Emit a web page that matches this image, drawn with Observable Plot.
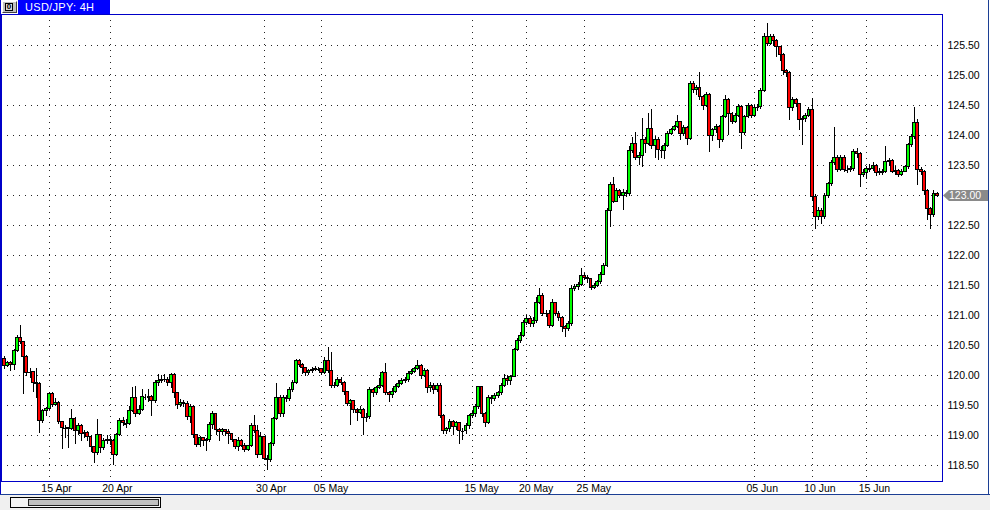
<!DOCTYPE html>
<html><head><meta charset="utf-8">
<script src="https://cdn.jsdelivr.net/npm/d3@7"></script>
<script src="https://cdn.jsdelivr.net/npm/@observablehq/plot@0.6"></script>
<style>
html,body{margin:0;padding:0;background:#fff;}
#wrap{position:relative;width:990px;height:510px;overflow:hidden;font-family:"Liberation Sans",Arial,sans-serif;}
#wrap svg{position:absolute;left:0;top:0;}
.abs{position:absolute;box-sizing:border-box;}
</style></head><body><div id="wrap"></div>
<script>
const symbolTitle = "USD/JPY: 4H";
const firstOpen = 120.28;
const close = [
120.16,120.21,120.18,120.41,120.63,120.55,120.31,120.04,120.05,119.87,
119.85,119.24,119.41,119.44,119.69,119.50,119.54,119.22,119.12,119.12,
119.10,119.28,119.07,119.16,119.03,119.04,118.98,118.80,118.70,119.00,
118.79,118.90,118.93,118.90,118.68,119.01,119.24,119.20,119.19,119.40,
119.63,119.36,119.43,119.64,119.63,119.64,119.57,119.88,119.90,119.92,
119.93,119.87,120.01,119.70,119.50,119.54,119.52,119.30,119.48,119.00,
118.84,118.95,118.90,118.92,119.18,119.35,119.09,119.06,119.09,119.06,
119.02,118.92,118.80,118.90,118.83,118.75,118.82,119.15,119.08,118.68,
118.97,118.61,118.59,118.85,119.28,119.63,119.35,119.63,119.60,119.76,
119.88,120.24,120.18,120.13,120.04,120.07,120.09,120.11,120.10,120.04,
120.24,120.07,119.82,119.83,119.93,119.88,119.72,119.53,119.57,119.42,
119.38,119.43,119.29,119.30,119.76,119.70,119.79,119.83,120.04,119.70,
119.68,119.73,119.80,119.86,119.90,119.92,120.03,120.06,120.10,120.15,
119.99,120.08,119.79,119.82,119.75,119.83,119.33,119.07,119.10,119.23,
119.14,119.20,119.07,119.07,119.15,119.32,119.35,119.48,119.80,119.36,
119.20,119.62,119.60,119.66,119.70,119.83,119.94,119.91,119.97,120.42,
120.57,120.66,120.87,120.94,120.86,120.90,121.20,121.32,121.03,121.03,
120.83,121.20,121.03,120.95,120.80,120.78,120.85,121.44,121.47,121.50,
121.66,121.63,121.60,121.46,121.49,121.55,121.68,121.83,122.75,123.18,
122.90,123.07,122.99,123.05,123.02,123.74,123.86,123.63,123.66,123.93,
123.86,124.11,123.82,123.93,123.76,123.75,123.82,124.02,124.09,124.14,
124.22,124.03,124.13,123.95,124.86,124.76,124.80,124.64,124.50,124.68,
124.00,124.09,124.14,123.92,124.31,124.60,124.36,124.23,124.33,124.48,
124.04,124.31,124.50,124.33,124.46,124.47,124.74,125.65,125.52,125.65,
125.58,125.47,125.35,125.08,125.04,124.46,124.60,124.52,124.26,124.28,
124.33,124.42,122.98,122.65,122.75,122.65,123.00,123.19,123.54,123.63,
123.43,123.63,123.43,123.42,123.44,123.73,123.70,123.35,123.38,123.44,
123.44,123.50,123.38,123.40,123.39,123.56,123.58,123.40,123.41,123.35,
123.40,123.47,123.84,123.97,124.21,123.42,123.40,123.07,122.77,122.68,
123.02,123.00];
const high = [
120.31,120.24,120.23,120.44,120.66,120.83,120.57,120.33,120.11,120.07,
120.11,119.88,119.44,119.47,119.72,119.71,119.61,119.56,119.24,119.16,
119.14,119.44,119.30,119.20,119.18,119.08,119.06,119.00,118.82,119.27,
119.02,118.95,119.00,118.98,118.93,119.04,119.28,119.30,119.26,119.48,
119.80,119.81,119.50,119.76,119.68,119.77,119.66,119.92,120.01,120.00,
120.01,119.96,120.03,120.03,119.72,119.60,119.58,119.56,119.52,119.50,
119.02,118.98,118.97,118.95,119.22,119.40,119.37,119.12,119.12,119.10,
119.10,119.04,118.92,118.96,118.94,118.86,118.84,119.20,119.34,119.16,
119.05,118.98,118.66,118.88,119.30,119.87,119.66,119.66,119.66,119.80,
119.92,120.27,120.26,120.20,120.14,120.10,120.13,120.15,120.14,120.12,
120.30,120.47,120.38,119.88,119.96,119.97,119.90,119.74,119.60,119.58,
119.45,119.48,119.45,119.36,119.80,119.78,119.82,119.95,120.07,120.20,
119.74,119.78,119.85,119.92,119.95,119.97,120.06,120.10,120.14,120.25,
120.18,120.12,120.10,119.88,119.86,119.86,119.86,119.35,119.14,119.26,
119.25,119.24,119.22,119.12,119.20,119.35,119.40,119.52,119.82,119.82,
119.38,119.66,119.66,119.70,119.74,119.86,120.02,120.00,120.00,120.45,
120.62,120.72,120.92,121.00,120.98,120.96,121.30,121.45,121.36,121.08,
121.08,121.26,121.22,121.06,120.98,120.84,120.90,121.50,121.52,121.55,
121.78,121.70,121.66,121.62,121.53,121.58,121.71,121.86,122.78,123.22,
123.30,123.12,123.10,123.10,123.08,123.82,123.96,124.05,123.72,124.28,
123.96,124.37,124.44,123.98,123.96,123.82,123.86,124.06,124.12,124.17,
124.33,124.24,124.16,124.15,124.90,124.90,124.84,125.05,124.66,124.71,
124.70,124.12,124.18,124.16,124.34,124.67,124.62,124.38,124.36,124.52,
124.50,124.34,124.54,124.52,124.50,124.52,124.78,125.70,125.86,125.68,
125.68,125.60,125.48,125.37,125.10,125.06,124.64,124.62,124.54,124.32,
124.36,124.46,124.61,123.02,122.80,122.78,123.04,123.22,123.58,124.14,
123.66,123.67,123.66,123.48,123.48,123.76,123.78,123.72,123.44,123.48,
123.52,123.55,123.52,123.45,123.44,123.81,123.62,123.60,123.48,123.44,
123.43,123.50,123.87,124.02,124.46,124.26,123.46,123.42,123.10,122.80,
123.08,123.05];
const low = [
120.10,120.14,120.07,120.08,120.39,120.52,119.69,119.99,119.95,119.71,
119.61,119.04,119.20,119.32,119.42,119.46,119.48,119.18,118.77,118.95,
118.78,119.08,118.85,119.00,118.90,118.95,118.90,118.72,118.54,118.66,
118.70,118.75,118.85,118.83,118.50,118.65,118.98,119.15,119.12,119.16,
119.38,119.30,119.33,119.40,119.58,119.55,119.32,119.54,119.82,119.86,
119.88,119.82,119.78,119.62,119.44,119.47,119.46,119.25,119.20,118.95,
118.80,118.80,118.82,118.74,118.88,119.10,119.00,118.90,119.00,118.98,
118.85,118.88,118.76,118.74,118.80,118.72,118.73,118.80,119.04,118.62,
118.66,118.58,118.42,118.55,118.82,119.25,119.30,119.30,119.55,119.56,
119.72,119.85,120.14,120.02,119.98,120.00,120.03,120.06,120.06,120.00,
120.02,120.04,119.78,119.78,119.80,119.84,119.66,119.48,119.17,119.36,
119.24,119.35,119.00,119.22,119.27,119.64,119.66,119.77,119.80,119.66,
119.55,119.62,119.70,119.78,119.84,119.86,119.88,120.00,120.04,120.08,
119.94,119.96,119.70,119.72,119.68,119.72,119.28,119.02,119.02,119.05,
119.00,119.08,118.85,118.92,119.02,119.10,119.28,119.30,119.44,119.30,
119.14,119.18,119.52,119.56,119.62,119.66,119.80,119.84,119.84,119.96,
120.40,120.54,120.64,120.84,120.80,120.80,120.86,121.18,120.98,120.96,
120.78,120.80,120.98,120.90,120.72,120.63,120.74,120.82,121.40,121.42,
121.48,121.58,121.54,121.42,121.44,121.46,121.52,121.66,121.80,122.47,
122.86,122.88,122.95,122.75,122.96,122.98,123.70,123.58,123.50,123.46,
123.70,123.84,123.76,123.62,123.58,123.62,123.60,123.80,124.00,124.07,
124.12,123.92,123.98,123.83,123.92,124.70,124.66,124.58,124.42,124.46,
123.72,123.90,124.04,123.78,123.88,124.28,124.00,124.18,124.20,124.30,
123.76,124.00,124.28,124.28,124.30,124.40,124.44,124.72,125.48,125.50,
125.48,125.30,125.24,125.00,124.96,124.25,124.40,124.46,124.08,123.83,
124.22,124.30,122.90,122.44,122.58,122.52,122.60,122.95,123.15,123.50,
123.38,123.40,123.38,123.36,123.38,123.40,123.62,123.14,123.30,123.26,
123.38,123.40,123.32,123.34,123.34,123.36,123.48,123.36,123.34,123.30,
123.32,123.38,123.44,123.80,123.94,123.17,123.34,123.00,122.59,122.44,
122.64,122.96];
const dateTickIdx = [14, 33, 81, 99, 146, 163, 181, 234, 252, 269];
const dateTickLabels = ["15 Apr","20 Apr","30 Apr","05 May","15 May","20 May","25 May","05 Jun","10 Jun","15 Jun"];
const priceTicks = [118.5,119,119.5,120,120.5,121,121.5,122,122.5,123,123.5,124,124.5,125,125.5];
const bidPrice = 123.00;

const bars = close.map((c, i) => ({i, o: i ? close[i - 1] : firstOpen, c, h: high[i], l: low[i]}));
const FONT = '"Liberation Sans", Arial, sans-serif';
const frameColor = "#0000c8";

const plot = Plot.plot({
  width: 990, height: 495,
  marginLeft: 1, marginRight: 48, marginTop: 14, marginBottom: 14,
  x: {type: "linear", domain: [-0.936, 292.67], axis: null, label: null},
  y: {domain: [118.2333, 126.0167], axis: null, label: null},
  style: {background: "transparent", fontFamily: FONT, fontSize: "10.5px", color: "#000", overflow: "visible"},
  marks: [
    Plot.ruleY(priceTicks, {stroke: "#000", strokeDasharray: "1,5", strokeOpacity: 0.85, shapeRendering: "crispEdges"}),
    Plot.ruleX(dateTickIdx, {stroke: "#000", strokeDasharray: "1,5", strokeOpacity: 0.85, shapeRendering: "crispEdges"}),
    Plot.ruleX(bars, {x: "i", y1: "l", y2: "h", stroke: "#000", strokeWidth: 1, shapeRendering: "crispEdges"}),
    Plot.ruleY(bars.filter(d => Math.abs(d.o - d.c) < 0.015), {y: "c", x1: d => d.i - 0.45, x2: d => d.i + 0.45, stroke: "#000", strokeWidth: 1.5, shapeRendering: "crispEdges"}),
    Plot.rect(bars.filter(d => Math.abs(d.o - d.c) >= 0.015), {
      x1: d => d.i - 0.45, x2: d => d.i + 0.45, y1: "o", y2: "c",
      fill: d => d.c >= d.o ? "#00ff00" : "#ff0000", stroke: "#000", strokeWidth: 1, shapeRendering: "crispEdges"
    }),
    Plot.axisY({anchor: "right", ticks: priceTicks.filter(t => t !== bidPrice), tickFormat: d => d.toFixed(2), tickSize: 0, tickPadding: 5, label: null, fontSize: 10.5}),
    Plot.axisX({anchor: "bottom", ticks: dateTickIdx, tickFormat: d => dateTickLabels[dateTickIdx.indexOf(d)], tickSize: 0, tickPadding: 3, textAnchor: "start", dx: -8, label: null, fontSize: 10.5}),
    Plot.frame({stroke: frameColor, strokeWidth: 1})
  ]
});

const wrap = document.getElementById("wrap");
wrap.appendChild(plot);

// bid price marker
const yb = plot.scale("y").apply(bidPrice);
const svg = d3.select(plot);
const g = svg.append("g");
g.append("path")
  .attr("d", `M943,${yb + 0.5} L949,${yb - 5} L988,${yb - 5} L988,${yb + 6} L949,${yb + 6} Z`)
  .attr("fill", "#8a8a8a");
g.append("text").attr("x", 949).attr("y", yb + 0.5).attr("dy", "0.35em")
  .attr("text-anchor", "start")
  .attr("fill", "#fff").attr("font-family", FONT).attr("font-size", "10.5px")
  .text(bidPrice.toFixed(2));

// window chrome
function box(css, html) {
  const d = document.createElement("div");
  d.className = "abs";
  d.style.cssText = css;
  if (html) d.innerHTML = html;
  wrap.appendChild(d);
  return d;
}
box("left:0;top:0;width:1px;height:495px;background:" + frameColor + ";");
box("left:988px;top:0;width:1px;height:495px;background:#1c3f94;");
box("left:2px;top:1px;width:15px;height:12px;background:#c0c0c0;border:1px solid;border-color:#fff #404040 #404040 #fff;");
box("left:5px;top:3px;width:8px;height:8px;border:1px solid #000;background:#d8d8d8;font:bold 8px/6px " + FONT + ";text-align:center;color:#000;", "0");
box("left:18px;top:0;width:92px;height:14px;background:#0000ff;color:#fff;font:11px/14px " + FONT + ";padding-left:7px;letter-spacing:0.3px;white-space:nowrap;", symbolTitle);
box("left:0;top:494px;width:990px;height:16px;background:#f0f0f0;border-top:1px solid #1c3f94;");
box("left:10px;top:497px;width:151px;height:11px;border:1px solid #000;background:#f4f4f4;");
box("left:28px;top:499px;width:131px;height:7px;border:1px solid #202020;background:#c0c0c0;");
</script></body></html>
